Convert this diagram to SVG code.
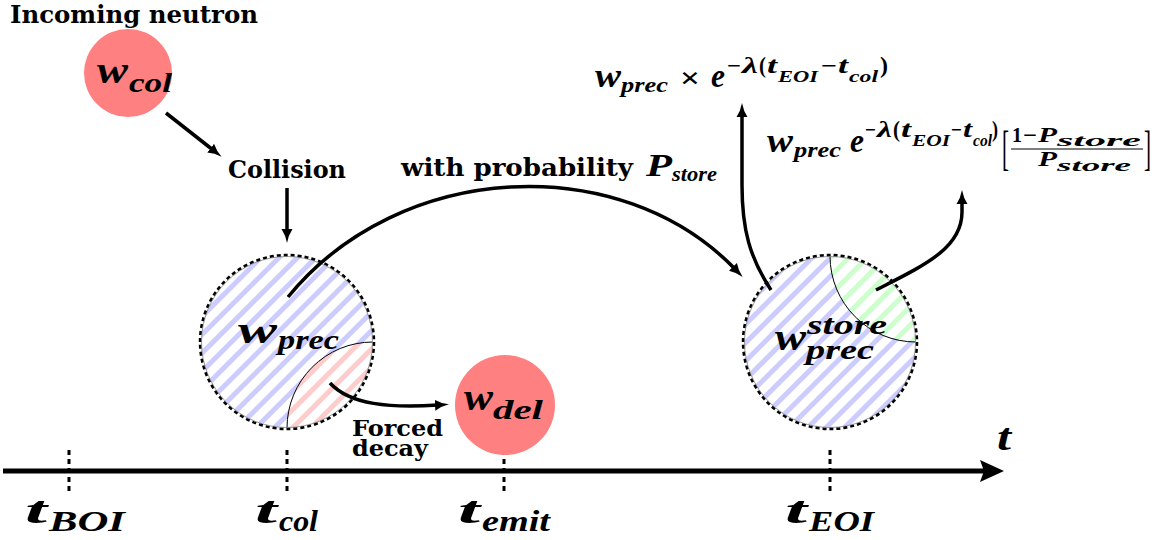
<svg xmlns="http://www.w3.org/2000/svg" width="1158" height="540" viewBox="0 0 1158 540">
<style>
.b{font-family:"DejaVu Serif","Liberation Serif",serif;font-weight:bold;fill:#000}
.m{font-family:"Liberation Serif","DejaVu Serif",serif;font-weight:bold;font-style:italic;fill:#000}
.u{font-family:"Liberation Serif","DejaVu Serif",serif;font-weight:bold;font-style:normal;fill:#000}
.n{font-family:"Liberation Serif","DejaVu Serif",serif;font-weight:normal;font-style:normal;fill:#000}
.arr{fill:none;stroke:#000;stroke-width:3.5;marker-end:url(#ah)}
.tick{stroke:#000;stroke-width:3;stroke-dasharray:5 4}
.ring{fill:none;stroke:#000;stroke-width:2.5;stroke-dasharray:4 3}
.thin{fill:none;stroke:#999;stroke-width:1}
.edge{fill:none;stroke:#000;stroke-width:1}
.red{fill:#ff8080}
</style>
<defs>
<marker id="ah" markerUnits="userSpaceOnUse" markerWidth="16" markerHeight="12" refX="3" refY="6" orient="auto">
<path d="M0,0.5 Q6,4.5 14,6 Q6,7.5 0,11.5 Z" fill="#000"/>
</marker>
<pattern id="hb" patternUnits="userSpaceOnUse" width="13" height="13" patternTransform="rotate(45)">
<rect width="13" height="13" fill="#fff"/><rect width="5" height="13" fill="#ccccff"/></pattern>
<pattern id="hr" patternUnits="userSpaceOnUse" width="13" height="13" patternTransform="rotate(45)">
<rect width="13" height="13" fill="#fff"/><rect width="5" height="13" fill="#ffcccc"/></pattern>
<pattern id="hg" patternUnits="userSpaceOnUse" width="13" height="13" patternTransform="rotate(45)">
<rect width="13" height="13" fill="#fff"/><rect width="5" height="13" fill="#ccffcc"/></pattern>
</defs>
<rect width="1158" height="540" fill="#fff"/>

<!-- timeline -->
<g id="timeline">
<line x1="3" y1="471" x2="986" y2="471" stroke="#000" stroke-width="5"/>
<path d="M980,460 L1004,471 L980,482 L984,471 Z" fill="#000"/>
<line class="tick" x1="69" y1="450" x2="69" y2="493"/>
<line class="tick" x1="287" y1="450" x2="287" y2="493"/>
<line class="tick" x1="504" y1="450" x2="504" y2="493"/>
<line class="tick" x1="830" y1="450" x2="830" y2="493"/>
<text class="m" x="997" y="450" font-size="38" textLength="14" lengthAdjust="spacingAndGlyphs">t</text>
<text class="m" font-size="38"><tspan x="25" y="523" textLength="22" lengthAdjust="spacingAndGlyphs">t</tspan><tspan x="49" y="531" font-size="29" textLength="76" lengthAdjust="spacingAndGlyphs">BOI</tspan></text>
<text class="m" font-size="38"><tspan x="255" y="523" textLength="22" lengthAdjust="spacingAndGlyphs">t</tspan><tspan x="279" y="531" font-size="29" textLength="39" lengthAdjust="spacingAndGlyphs">col</tspan></text>
<text class="m" font-size="38"><tspan x="458" y="523" textLength="22" lengthAdjust="spacingAndGlyphs">t</tspan><tspan x="482" y="531" font-size="29" textLength="68" lengthAdjust="spacingAndGlyphs">emit</tspan></text>
<text class="m" font-size="38"><tspan x="785" y="523" textLength="22" lengthAdjust="spacingAndGlyphs">t</tspan><tspan x="809" y="531" font-size="29" textLength="65" lengthAdjust="spacingAndGlyphs">EOI</tspan></text>
</g>

<!-- precursor node -->
<g id="node-wprec">
<circle cx="287" cy="342" r="86" fill="url(#hb)"/>
<path d="M287,428 A86,86 0 0 0 373,342 A86,86 0 0 0 287,428 Z" fill="url(#hr)"/>
<path class="edge" d="M373,342 A86,86 0 0 0 287,428"/>
<circle class="thin" cx="287" cy="342" r="85.5"/>
<circle class="ring" cx="287" cy="342" r="87"/>
<text class="m" font-size="38"><tspan x="238" y="343" textLength="39" lengthAdjust="spacingAndGlyphs">w</tspan><tspan x="278" y="349" font-size="28" textLength="61" lengthAdjust="spacingAndGlyphs">prec</tspan></text>
</g>

<!-- stored precursor node -->
<g id="node-wstore">
<circle cx="830" cy="342" r="86" fill="url(#hb)"/>
<path d="M830,256 A86,86 0 0 1 916,342 A86,86 0 0 1 830,256 Z" fill="url(#hg)"/>
<path class="edge" d="M916,342 A86,86 0 0 1 830,256"/>
<circle class="thin" cx="830" cy="342" r="85.5"/>
<circle class="ring" cx="830" cy="342" r="87"/>
<text class="m" font-size="38"><tspan x="775" y="350" textLength="31" lengthAdjust="spacingAndGlyphs">w</tspan><tspan x="807" y="334" font-size="27" textLength="80" lengthAdjust="spacingAndGlyphs">store</tspan><tspan x="806" y="359" font-size="27" textLength="68" lengthAdjust="spacingAndGlyphs">prec</tspan></text>
</g>

<!-- w_col node -->
<g id="node-wcol">
<circle class="red" cx="128" cy="73" r="44"/>
<text class="m" font-size="38"><tspan x="97" y="83" textLength="31" lengthAdjust="spacingAndGlyphs">w</tspan><tspan x="129" y="92" font-size="28" textLength="43" lengthAdjust="spacingAndGlyphs">col</tspan></text>
</g>

<!-- w_del node -->
<g id="node-wdel">
<circle class="red" cx="505" cy="405" r="50"/>
<text class="m" font-size="38"><tspan x="464" y="410" textLength="29" lengthAdjust="spacingAndGlyphs">w</tspan><tspan x="493" y="419" font-size="28" textLength="50" lengthAdjust="spacingAndGlyphs">del</tspan></text>
</g>

<!-- connectors -->
<g id="connectors">
<path class="arr" d="M166,113 L213,150"/>
<path class="arr" d="M287,188 L287,232"/>
<path class="arr" d="M288,297 C400,160 620,150 735,269"/>
<path class="arr" d="M771,290 C750,258 742,230 742,185 L742,114"/>
<path class="arr" d="M876,290 C925,265 962,248 962,212 L962,201"/>
<path class="arr" d="M330,383 C350,405 390,408 438,405"/>
</g>

<!-- labels -->
<g id="label-incoming">
<text class="b" x="10" y="23" font-size="25" textLength="248" lengthAdjust="spacingAndGlyphs">Incoming neutron</text>
</g>
<g id="label-collision">
<text class="b" x="228" y="178" font-size="25" textLength="118" lengthAdjust="spacingAndGlyphs">Collision</text>
</g>
<g id="label-probability">
<text class="b" font-size="25"><tspan x="401" y="176" textLength="232" lengthAdjust="spacingAndGlyphs">with probability</tspan><tspan class="m" x="646" y="176" font-size="31" textLength="26" lengthAdjust="spacingAndGlyphs">P</tspan><tspan class="m" x="672" y="181" font-size="22" textLength="45" lengthAdjust="spacingAndGlyphs">store</tspan></text>
</g>
<g id="label-forced">
<text class="b" font-size="23"><tspan x="352" y="436" textLength="91" lengthAdjust="spacingAndGlyphs">Forced</tspan><tspan x="352" y="456" textLength="76" lengthAdjust="spacingAndGlyphs">decay</tspan></text>
</g>

<g id="label-formula1">
<text class="m" font-size="33"><tspan x="595" y="87" textLength="26" lengthAdjust="spacingAndGlyphs">w</tspan><tspan x="621" y="92" font-size="22" textLength="47" lengthAdjust="spacingAndGlyphs">prec</tspan><tspan class="u" x="680" y="88" font-size="30" textLength="20" lengthAdjust="spacingAndGlyphs">×</tspan><tspan x="711" y="87" textLength="14" lengthAdjust="spacingAndGlyphs">e</tspan><tspan class="u" x="727" y="73" font-size="22" textLength="14" lengthAdjust="spacingAndGlyphs">−</tspan><tspan x="742" y="73" font-size="23" textLength="16" lengthAdjust="spacingAndGlyphs">λ</tspan><tspan class="u" x="759" y="73" font-size="23" textLength="7" lengthAdjust="spacingAndGlyphs">(</tspan><tspan x="767" y="73" font-size="23" textLength="10" lengthAdjust="spacingAndGlyphs">t</tspan><tspan x="778" y="82" font-size="17" textLength="40" lengthAdjust="spacingAndGlyphs">EOI</tspan><tspan class="u" x="821" y="73" font-size="22" textLength="16" lengthAdjust="spacingAndGlyphs">−</tspan><tspan x="838" y="73" font-size="23" textLength="10" lengthAdjust="spacingAndGlyphs">t</tspan><tspan x="849" y="82" font-size="17" textLength="29" lengthAdjust="spacingAndGlyphs">col</tspan><tspan class="u" x="880" y="73" font-size="23" textLength="8" lengthAdjust="spacingAndGlyphs">)</tspan></text>
</g>

<g id="label-formula2">
<text class="m" font-size="33"><tspan x="767" y="152" textLength="26" lengthAdjust="spacingAndGlyphs">w</tspan><tspan x="794" y="157" font-size="22" textLength="47" lengthAdjust="spacingAndGlyphs">prec</tspan><tspan x="850" y="152" textLength="14" lengthAdjust="spacingAndGlyphs">e</tspan><tspan class="u" x="865" y="137" font-size="22" textLength="11" lengthAdjust="spacingAndGlyphs">−</tspan><tspan x="877" y="137" font-size="23" textLength="15" lengthAdjust="spacingAndGlyphs">λ</tspan><tspan class="u" x="893" y="137" font-size="23" textLength="7" lengthAdjust="spacingAndGlyphs">(</tspan><tspan x="901" y="137" font-size="23" textLength="10" lengthAdjust="spacingAndGlyphs">t</tspan><tspan x="912" y="146" font-size="17" textLength="38" lengthAdjust="spacingAndGlyphs">EOI</tspan><tspan class="u" x="951" y="137" font-size="22" textLength="11" lengthAdjust="spacingAndGlyphs">−</tspan><tspan x="963" y="137" font-size="23" textLength="9" lengthAdjust="spacingAndGlyphs">t</tspan><tspan x="973" y="146" font-size="17" textLength="19" lengthAdjust="spacingAndGlyphs">col</tspan><tspan class="u" x="992" y="137" font-size="23" textLength="6" lengthAdjust="spacingAndGlyphs">)</tspan></text>
<text class="n" font-size="48"><tspan x="1002" y="164" textLength="7" lengthAdjust="spacingAndGlyphs">[</tspan><tspan x="1144" y="164" textLength="7" lengthAdjust="spacingAndGlyphs">]</tspan></text>
<text class="m" font-size="21"><tspan class="u" x="1012" y="142" textLength="10" lengthAdjust="spacingAndGlyphs">1</tspan><tspan class="u" x="1023" y="142" textLength="14" lengthAdjust="spacingAndGlyphs">−</tspan><tspan x="1038" y="142" textLength="19" lengthAdjust="spacingAndGlyphs">P</tspan><tspan x="1057" y="146" font-size="16" textLength="84" lengthAdjust="spacingAndGlyphs">store</tspan></text>
<line x1="1011" y1="149" x2="1143" y2="149" stroke="#000" stroke-width="1.2"/>
<text class="m" font-size="21"><tspan x="1038" y="166" textLength="19" lengthAdjust="spacingAndGlyphs">P</tspan><tspan x="1057" y="171" font-size="16" textLength="74" lengthAdjust="spacingAndGlyphs">store</tspan></text>
</g>
</svg>
